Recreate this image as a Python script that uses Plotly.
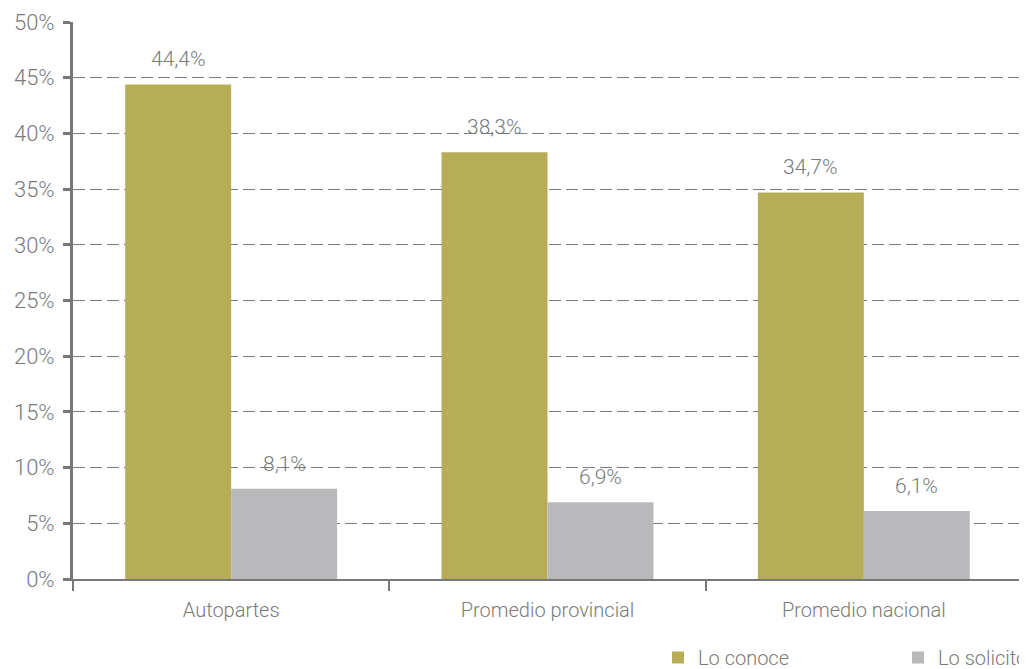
import plotly.graph_objects as go

categories = ["Autopartes", "Promedio provincial", "Promedio nacional"]
lo_conoce = [44.4, 38.3, 34.7]
lo_solicito = [8.1, 6.9, 6.1]
series_names = ["Lo conoce", "Lo solicitó"]
y_ticks = [0, 5, 10, 15, 20, 25, 30, 35, 40, 45, 50]
y_tick_labels = [f"{v}%" for v in y_ticks]

FONT = "Roboto, sans-serif"
GREY_TXT = "#7a7a7a"
AXIS = "#777777"
GOLD = "#B6AD56"
GREY = "#B9B9BB"

def fmt(v):
    return f"{v:.1f}%".replace(".", ",")

fig = go.Figure()
fig.add_trace(go.Bar(x=categories, y=lo_conoce, name=series_names[0], legend="legend",
                     marker=dict(color=GOLD, line=dict(width=0))))
fig.add_trace(go.Bar(x=categories, y=lo_solicito, name=series_names[1], legend="legend2",
                     marker=dict(color=GREY, line=dict(width=0))))

half_bar = 53
for vals, shift in ((lo_conoce, -half_bar), (lo_solicito, half_bar)):
    for c, v in zip(categories, vals):
        fig.add_annotation(x=c, y=v, xref="x", yref="y", text=fmt(v),
                           showarrow=False, xshift=shift, yshift=25,
                           font=dict(family=FONT, size=21, color=GREY_TXT, weight=300))

legend_common = dict(orientation="h", xref="container", yref="container",
                     xanchor="left", yanchor="bottom", y=0.0,
                     font=dict(family=FONT, size=20, color=GREY_TXT, weight=300),
                     bgcolor="rgba(0,0,0,0)", borderwidth=0)

fig.update_layout(
    width=1027, height=669,
    margin=dict(l=65, r=13, t=14, b=98, autoexpand=False),
    paper_bgcolor="white", plot_bgcolor="white",
    barmode="group", bargap=0.33, bargroupgap=0,
    font=dict(family=FONT, size=20, color=GREY_TXT, weight=300),
    showlegend=True,
    legend=dict(x=650 / 1027, **legend_common),
    legend2=dict(x=890 / 1027, **legend_common),
)
fig.update_xaxes(
    type="category", showline=True, linecolor=AXIS, linewidth=2,
    ticks="outside", tickson="boundaries", ticklen=10, tickwidth=2, tickcolor=AXIS,
    ticklabelstandoff=12,
    showgrid=False, tickfont=dict(family=FONT, size=20, color=GREY_TXT, weight=300),
)
fig.update_yaxes(
    range=[0, 50], tickvals=y_ticks, ticktext=y_tick_labels,
    showline=True, linecolor=AXIS, linewidth=3,
    ticks="outside", ticklen=7, tickwidth=3, tickcolor=AXIS,
    ticklabelstandoff=4,
    showgrid=True, gridcolor="#7a7a7a", gridwidth=1, griddash="12px,5px",
    zeroline=False, tickfont=dict(family=FONT, size=22, color=GREY_TXT, weight=300),
)

fig.write_html("out.html")
